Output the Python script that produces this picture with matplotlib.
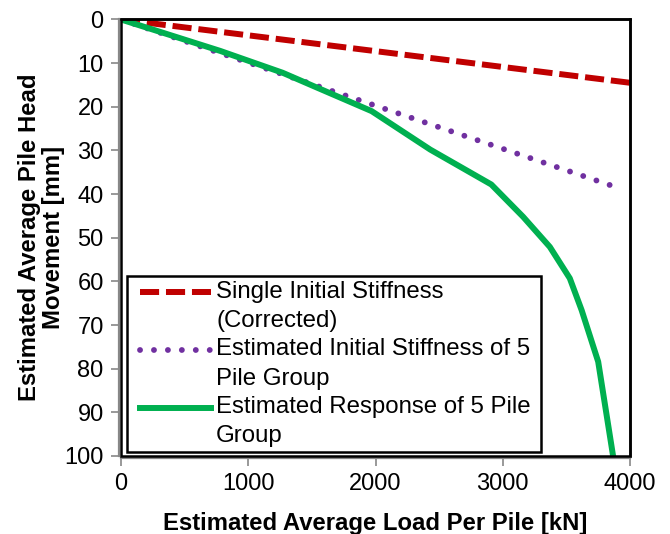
import numpy as np
import matplotlib
matplotlib.use("Agg")
import matplotlib.pyplot as plt
from matplotlib.patches import Rectangle

plt.rcParams['font.family'] = ['Liberation Sans', 'DejaVu Sans']

# ---- data ----
single_load = [0, 4000]
single_move = [0, 14.5]

group_init_load = [0, 3900]
group_init_move = [0, 38.5]

group_resp_load = [0, 780, 1270, 1540, 1970, 2430, 2910, 3160, 3370, 3527, 3620, 3750, 3867]
group_resp_move = [0, 7.2, 12.2, 15.6, 21.0, 29.8, 37.8, 45.2, 52.1, 59.3, 66.6, 78.4, 100]

labels = ["Single Initial Stiffness\n(Corrected)",
          "Estimated Initial Stiffness of 5 \nPile Group",
          "Estimated Response of 5 Pile\nGroup"]
x_ticks = [0, 1000, 2000, 3000, 4000]
y_ticks = [0, 10, 20, 30, 40, 50, 60, 70, 80, 90, 100]
x_label = "Estimated Average Load Per Pile [kN]"
y_label = "Estimated Average Pile Head\nMovement [mm]"

FS = 17
AFS = 17.2
LFS = 17.3

fig = plt.figure(figsize=(6.7, 5.34), dpi=100)
ax = fig.add_axes([0.1806, 0.1461, 0.7597, 0.8174])

l1, = ax.plot(single_load, single_move, color='#C00000', lw=4.3,
              linestyle=(0, (3.2, 1.15)), dash_capstyle='butt', label=labels[0])
l2, = ax.plot(group_init_load, group_init_move, color='#7030A0', lw=4.2,
              linestyle=(0, (0.01, 2.38)), dash_capstyle='round', label=labels[1])
l3, = ax.plot(group_resp_load, group_resp_move, color='#00B050', lw=4.3,
              solid_joinstyle='round', label=labels[2])

ax.set_xlim(0, 4000)
ax.set_ylim(100, 0)
ax.set_xticks(x_ticks)
ax.set_yticks(y_ticks)
ax.tick_params(axis='both', labelsize=FS, direction='out', length=6, width=1.2,
               color='#888888', pad=5)
ax.tick_params(axis='x', top=False)
ax.tick_params(axis='y', right=False)

for s in ['left', 'bottom']:
    ax.spines[s].set_color('#888888')
    ax.spines[s].set_linewidth(1.6)
    ax.spines[s].set_position(('outward', 1.5))
for s in ['top', 'right']:
    ax.spines[s].set_color('black')
    ax.spines[s].set_linewidth(1.8)
ax.add_patch(Rectangle((0, 0), 1, 1, transform=ax.transAxes, fill=False,
                       ec='black', lw=1.8, zorder=5, clip_on=False))

ax.set_xlabel(x_label, fontsize=AFS, fontweight='bold')
ax.set_ylabel(y_label, fontsize=AFS, fontweight='bold', linespacing=1.08)
ax.xaxis.set_label_coords(0.5, -0.128)
ax.yaxis.set_label_coords(-0.110, 0.5)

leg = ax.legend(loc='lower left', bbox_to_anchor=(0.012, 0.009), borderaxespad=0,
                fontsize=LFS, frameon=True, fancybox=False, framealpha=1,
                edgecolor='black', handlelength=3.3, handletextpad=0.21,
                labelspacing=0.28, borderpad=0.19)
leg.get_frame().set_linewidth(1.8)
for t in leg.get_texts():
    t.set_linespacing(1.42)
for h in leg.legend_handles:
    h.set_ydata(np.asarray(h.get_ydata(), dtype=float) + 10.0)
    xd = np.asarray(h.get_xdata(), dtype=float)
    h.set_xdata(np.linspace(xd[0] + 6.0, xd[-1], len(xd)))

fig.savefig("out.png", dpi=100)
